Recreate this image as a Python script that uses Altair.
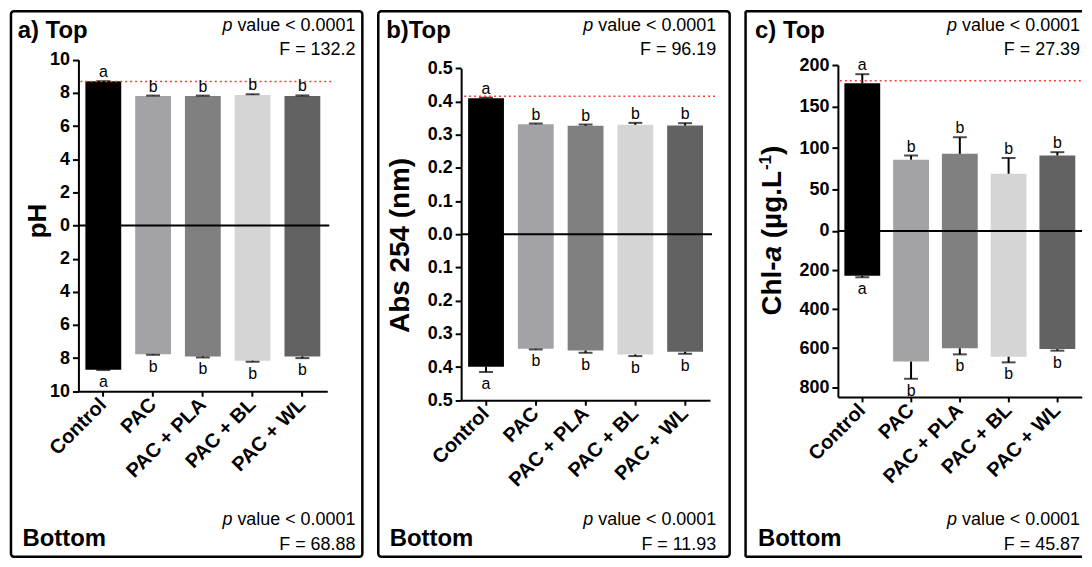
import altair as alt
import pandas as pd

FONT = "Liberation Sans"

categories = ["Control", "PAC", "PAC + PLA", "PAC + BL", "PAC + WL"]
bar_colors = ["#000000", "#a3a3a7", "#808080", "#d5d5d5", "#626262"]

# ---- panel a: pH ----
ph_top = [8.70, 7.81, 7.81, 7.88, 7.82]
ph_top_err = [0.01, 0.03, 0.03, 0.04, 0.03]
ph_bottom = [8.70, 7.76, 7.90, 8.16, 7.90]
ph_bottom_err = [0.02, 0.04, 0.06, 0.06, 0.10]
ph_letters_top = ["a", "b", "b", "b", "b"]
ph_letters_bottom = ["a", "b", "b", "b", "b"]
ph_reference = 8.69
ph_ticks = [-10, -8, -6, -4, -2, 0, 2, 4, 6, 8, 10]

# ---- panel b: Abs 254 ----
abs_top = [0.410, 0.332, 0.327, 0.330, 0.328]
abs_top_err = [0.002, 0.002, 0.004, 0.006, 0.007]
abs_bottom = [0.399, 0.345, 0.350, 0.362, 0.354]
abs_bottom_err = [0.016, 0.002, 0.007, 0.005, 0.006]
abs_letters_top = ["a", "b", "b", "b", "b"]
abs_letters_bottom = ["a", "b", "b", "b", "b"]
abs_reference = 0.416
abs_ticks = [-0.5, -0.4, -0.3, -0.2, -0.1, 0.0, 0.1, 0.2, 0.3, 0.4, 0.5]

# ---- panel c: Chl-a ----
chl_top = [178, 86, 93, 69, 91]
chl_top_err = [11, 5, 20, 19, 4]
chl_bottom = [229, 669, 601, 644, 605]
chl_bottom_err = [8, 88, 31, 29, 8]
chl_letters_top = ["a", "b", "b", "b", "b"]
chl_letters_bottom = ["a", "b", "b", "b", "b"]
chl_reference = 181
chl_top_ticks = [0, 50, 100, 150, 200]
chl_bottom_ticks = [200, 400, 600, 800]
chl_top_max = 200
chl_bottom_max = 850

stats_top = {"a": "F = 132.2", "b": "F = 96.19", "c": "F = 27.39"}
stats_bottom = {"a": "F = 68.88", "b": "F = 11.93", "c": "F = 45.87"}
p_text = "value < 0.0001"

H = 548
one = pd.DataFrame({"k": [0]})


def txt(s, x, y, size, weight="normal", style="normal", align="left",
        baseline="alphabetic", angle=0):
    return alt.Chart(one).mark_text(
        text=s, fontSize=size, fontWeight=weight, fontStyle=style, align=align,
        baseline=baseline, angle=angle, font=FONT, color="black"
    ).encode(x=alt.value(x), y=alt.value(y))


def make_panel(cfg):
    k = cfg["kb"]
    rows = []
    for i, c in enumerate(categories):
        v, e = cfg["top"][i], cfg["top_err"][i]
        rows.append(dict(category=c, side="top", val=v, end=v + e, letter=cfg["lt"][i]))
        v, e = cfg["bottom"][i], cfg["bottom_err"][i]
        rows.append(dict(category=c, side="bottom", val=-v * k, end=-(v + e) * k,
                         letter=cfg["lb"][i]))
    df = pd.DataFrame(rows)

    x0, band, W = cfg["x0"], cfg["band"], cfg["W"]
    pin = (band - 36) / band
    xsc = alt.Scale(domain=categories, range=[x0, x0 + 5 * band],
                    paddingInner=pin, paddingOuter=pin / 2)
    ysc = alt.Scale(domain=[-cfg["ymax"], cfg["ymax"]],
                    range=[cfg["ybot"], cfg["ytop"]], nice=False, zero=False)
    xaxis = alt.Axis(title="", orient="bottom", offset=-(H - cfg["ybot"]),
                     labelAngle=-45, labelAlign="right", labelBaseline="middle",
                     labelFontSize=20, labelFontWeight="bold", labelFont=FONT,
                     labelColor="black", labelPadding=5, tickSize=5, tickWidth=2,
                     tickColor="black", domainColor="black", domainWidth=2,
                     grid=False)
    yaxis = alt.Axis(title="", orient="left", offset=-x0, values=cfg["ticks"],
                     labelExpr=cfg["expr"], labelFontSize=18, labelFontWeight="bold",
                     labelFont=FONT, labelColor="black", labelPadding=3, tickSize=6,
                     tickWidth=2, tickColor="black", domainColor="black",
                     domainWidth=2, grid=False, labelOverlap=False)

    X = alt.X("category:N", sort=categories, scale=xsc, axis=xaxis)
    base = alt.Chart(df)
    bars = base.mark_bar().encode(
        x=X, y=alt.Y("val:Q", scale=ysc, axis=yaxis),
        color=alt.Color("category:N", scale=alt.Scale(domain=categories, range=bar_colors),
                        legend=None))
    stems = base.mark_rule(strokeWidth=2, color="black").encode(
        x=X, y=alt.Y("val:Q", scale=ysc, axis=yaxis), y2="end:Q")
    caps = base.mark_tick(size=14, thickness=2, color="black").encode(
        x=X, y=alt.Y("end:Q", scale=ysc, axis=yaxis))
    let_top = base.transform_filter(alt.datum.side == "top").mark_text(
        baseline="alphabetic", dy=-4, fontSize=16, font=FONT, color="black").encode(
        x=X, y=alt.Y("end:Q", scale=ysc, axis=yaxis), text="letter:N")
    let_bot = base.transform_filter(alt.datum.side == "bottom").mark_text(
        baseline="top", dy=4, fontSize=16, font=FONT, color="black").encode(
        x=X, y=alt.Y("end:Q", scale=ysc, axis=yaxis), text="letter:N")

    zero = alt.Chart(pd.DataFrame({"z": [0]})).mark_rule(strokeWidth=2, color="black").encode(
        y=alt.Y("z:Q", scale=ysc, axis=yaxis), x=alt.value(x0), x2=alt.value(cfg["zx2"]))
    ref = alt.Chart(pd.DataFrame({"z": [cfg["ref"]]})).mark_rule(
        strokeWidth=1.5, color="#ff3b3b", strokeDash=[2, 3]).encode(
        y=alt.Y("z:Q", scale=ysc, axis=yaxis), x=alt.value(cfg["rx1"]), x2=alt.value(cfg["rx2"]))

    R = cfg["right"]
    annots = [
        txt(cfg["label"], cfg["lx"], 26.5, 24, weight="bold"),
        txt("p", R - 123.6, 19.75, 18, style="italic", align="right"),
        txt(p_text, R, 19.75, 18, align="right"),
        txt(stats_top[cfg["key"]], R, 44, 18, align="right"),
        txt("Bottom", cfg["bx"], 537, 24, weight="bold"),
        txt("p", R - 123.6, 516, 18, style="italic", align="right"),
        txt(p_text, R, 516, 18, align="right"),
        txt(stats_bottom[cfg["key"]], R, 541, 18, align="right"),
    ]
    annots += cfg["ytitle"]
    layers = [bars, stems, caps, zero, ref, let_top, let_bot] + annots
    if cfg["frame3"]:
        fr = alt.Chart(one).mark_rule(strokeWidth=2.5, color="black")
        layers += [
            fr.encode(x=alt.value(0), x2=alt.value(W), y=alt.value(0)),
            fr.encode(x=alt.value(0), y=alt.value(0), y2=alt.value(H)),
            fr.encode(x=alt.value(0), x2=alt.value(W), y=alt.value(H)),
        ]
        view = alt.ViewBackground(stroke="transparent")
    else:
        view = alt.ViewBackground(stroke="black", strokeWidth=2.5, cornerRadius=3)
    return alt.layer(*layers).properties(width=W, height=H, view=view)


cfg_a = dict(key="a", label="a) Top", top=ph_top, top_err=ph_top_err, bottom=ph_bottom,
             bottom_err=ph_bottom_err, lt=ph_letters_top, lb=ph_letters_bottom, kb=1.0,
             ymax=10, ybot=381.75, ytop=48.75, x0=67.75, band=50, W=353,
             ticks=ph_ticks, expr="format(abs(datum.value), 'd')",
             ref=ph_reference, rx1=69.75, rx2=322.75, zx2=319.75, right=346,
             lx=6.75, bx=11.5, frame3=False,
             ytitle=[txt("pH", 27.25, 210.75, 26, weight="bold", align="center",
                         baseline="middle", angle=270)])

cfg_b = dict(key="b", label="b)Top", top=abs_top, top_err=abs_top_err, bottom=abs_bottom,
             bottom_err=abs_bottom_err, lt=abs_letters_top, lb=abs_letters_bottom, kb=1.0,
             ymax=0.5, ybot=390.75, ytop=57.45, x0=83.25, band=50, W=353,
             ticks=abs_ticks, expr="format(abs(datum.value), '.1f')",
             ref=abs_reference, rx1=86.25, rx2=341.25, zx2=335.25, right=339.5,
             lx=8, bx=11.5, frame3=False,
             ytitle=[txt("Abs 254 (nm)", 22.85, 235.25, 28, weight="bold", align="center",
                         baseline="middle", angle=270)])

kc = chl_top_max / chl_bottom_max
chl_ticks = chl_top_ticks + [-v * kc for v in chl_bottom_ticks]
chl_expr = ("datum.value >= 0 ? format(datum.value, 'd') : "
            "format(round(-datum.value * %d / %d), 'd')" % (chl_bottom_max, chl_top_max))
cx, cy = 35.75, 305.75
chl_title = [
    txt("Chl-", cx, cy, 28, weight="bold", angle=270),
    txt("a", cx, cy - 54.4, 28, weight="bold", style="italic", angle=270),
    txt("(µg.L", cx, cy - 54.4 - 15.6 - 7.8, 28, weight="bold", angle=270),
    txt("-1", cx - 10, cy - 54.4 - 15.6 - 7.8 - 68.4, 17, weight="bold", angle=270),
    txt(")", cx, cy - 54.4 - 15.6 - 7.8 - 68.4 - 15.1, 28, weight="bold", angle=270),
]
cfg_c = dict(key="c", label="c) Top", top=chl_top, top_err=chl_top_err, bottom=chl_bottom,
             bottom_err=chl_bottom_err, lt=chl_letters_top, lb=chl_letters_bottom, kb=kc,
             ymax=chl_top_max, ybot=387.45, ytop=54.05, x0=92.75, band=49, W=338,
             ticks=chl_ticks, expr=chl_expr,
             ref=chl_reference, rx1=94.75, rx2=338, zx2=338, right=336,
             lx=9.5, bx=12.5, frame3=True, ytitle=chl_title)

chart = alt.hconcat(make_panel(cfg_a), make_panel(cfg_b), make_panel(cfg_c), spacing=12).properties(
    padding={"left": 1, "top": 0, "right": 0, "bottom": 0}
).configure(font=FONT)

chart.save("out.html", embed_options={"renderer": "svg", "actions": False})
